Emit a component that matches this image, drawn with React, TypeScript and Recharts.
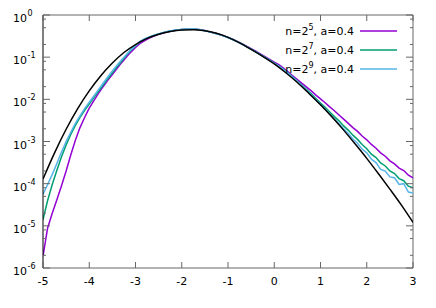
import React from 'react';
import { LineChart, Line, XAxis, YAxis, ReferenceLine } from 'recharts';

const W = 428;
const H = 300;
const MARGIN = { top: 7, right: 23, bottom: 0, left: 0 };
const Y_AXIS_W = 35;
const X_AXIS_H = 40;
const PLOT_W = W - MARGIN.left - MARGIN.right - Y_AXIS_W;
const PLOT_TOP = MARGIN.top;
const FONT = '"DejaVu Sans", "Liberation Sans", sans-serif';
const TICK_COLOR = '#666';

// x grid for the simulated histograms
const gridX = [
  -5.0, -4.9, -4.8, -4.7, -4.6, -4.5, -4.4, -4.3, -4.2, -4.1,
  -4.0, -3.9, -3.8, -3.7, -3.6, -3.5, -3.4, -3.3, -3.2, -3.1,
  -3.0, -2.9, -2.8, -2.7, -2.6, -2.5, -2.4, -2.3, -2.2, -2.1,
  -2.0, -1.9, -1.8, -1.7, -1.6, -1.5, -1.4, -1.3, -1.2, -1.1,
  -1.0, -0.9, -0.8, -0.7, -0.6, -0.5, -0.4, -0.3, -0.2, -0.1,
  0.0, 0.1, 0.2, 0.3, 0.4, 0.5, 0.6, 0.7, 0.8, 0.9,
  1.0, 1.1, 1.2, 1.3, 1.4, 1.5, 1.6, 1.7, 1.8, 1.9,
  2.0, 2.1, 2.2, 2.3, 2.4, 2.5, 2.6, 2.7, 2.8, 2.9,
  3.0,
];

// log10 of density
const n5Log10 = [
  -5.72, -5.05, -4.70, -4.38, -4.05, -3.70, -3.32, -2.97, -2.67, -2.43,
  -2.21, -2.03, -1.86, -1.70, -1.55, -1.41, -1.27, -1.13, -1.00, -0.88,
  -0.77, -0.675, -0.605, -0.55, -0.50, -0.46, -0.425, -0.397, -0.375, -0.358,
  -0.346, -0.338, -0.336, -0.34, -0.352, -0.37, -0.40, -0.425, -0.455, -0.49,
  -0.53, -0.575, -0.625, -0.68, -0.74, -0.80, -0.86, -0.925, -0.99, -1.055,
  -1.12, -1.18, -1.26, -1.35, -1.44, -1.53, -1.62, -1.71, -1.80, -1.90,
  -1.99, -2.08, -2.18, -2.27, -2.37, -2.47, -2.57, -2.67, -2.76, -2.87,
  -2.96, -3.07, -3.16, -3.27, -3.35, -3.46, -3.53, -3.63, -3.69, -3.80,
  -3.86,
];

const n7Log10 = [
  -4.85, -4.40, -4.02, -3.68, -3.36, -3.08, -2.83, -2.62, -2.43, -2.26,
  -2.11, -1.96, -1.81, -1.66, -1.51, -1.37, -1.23, -1.10, -0.96, -0.835,
  -0.735, -0.635, -0.57, -0.525, -0.485, -0.45, -0.418, -0.393, -0.372, -0.356,
  -0.345, -0.338, -0.336, -0.34, -0.352, -0.372, -0.40, -0.425, -0.457, -0.493,
  -0.533, -0.58, -0.632, -0.688, -0.748, -0.81, -0.873, -0.938, -1.005, -1.072,
  -1.14, -1.21, -1.29, -1.38, -1.47, -1.57, -1.67, -1.77, -1.87, -1.98,
  -2.09, -2.19, -2.30, -2.41, -2.51, -2.63, -2.73, -2.85, -2.95, -3.07,
  -3.17, -3.30, -3.38, -3.51, -3.58, -3.70, -3.76, -3.88, -3.93, -4.06,
  -4.10,
];

const n9Log10 = [
  -4.25, -4.02, -3.78, -3.52, -3.25, -3.00, -2.78, -2.57, -2.39, -2.22,
  -2.07, -1.92, -1.77, -1.62, -1.47, -1.33, -1.19, -1.06, -0.94, -0.82,
  -0.725, -0.625, -0.565, -0.52, -0.48, -0.447, -0.416, -0.391, -0.37, -0.354,
  -0.343, -0.336, -0.334, -0.339, -0.351, -0.371, -0.40, -0.426, -0.458, -0.495,
  -0.535, -0.582, -0.634, -0.69, -0.75, -0.813, -0.876, -0.942, -1.01, -1.077,
  -1.145, -1.215, -1.295, -1.385, -1.48, -1.58, -1.68, -1.79, -1.90, -2.01,
  -2.12, -2.24, -2.35, -2.47, -2.58, -2.70, -2.81, -2.94, -3.04, -3.18,
  -3.27, -3.42, -3.50, -3.66, -3.70, -3.84, -3.86, -4.02, -4.00, -4.20,
  -4.22,
];

// limiting curve
const limitX = [
  -5.0, -4.75, -4.5, -4.25, -4.0, -3.75, -3.5, -3.25, -3.0, -2.75,
  -2.5, -2.25, -2.0, -1.75, -1.5, -1.25, -1.0, -0.75, -0.5, -0.25,
  0.0, 0.25, 0.5, 0.75, 1.0, 1.25, 1.5, 1.75, 2.0, 2.25,
  2.5, 2.75, 3.0,
];
const limitLog10 = [
  -3.89, -3.27, -2.71, -2.22, -1.80, -1.44, -1.14, -0.89, -0.70, -0.555,
  -0.455, -0.39, -0.355, -0.348, -0.372, -0.435, -0.53, -0.66, -0.815, -0.98,
  -1.16, -1.37, -1.60, -1.86, -2.13, -2.42, -2.73, -3.06, -3.40, -3.76,
  -4.13, -4.51, -4.92,
];

const xTicks = [-5, -4, -3, -2, -1, 0, 1, 2, 3];
const yTicks = [
  1e-6, 2e-6, 5e-6, 8e-6,
  1e-5, 2e-5, 5e-5, 8e-5,
  1e-4, 2e-4, 5e-4, 8e-4,
  1e-3, 2e-3, 5e-3, 8e-3,
  1e-2, 2e-2, 5e-2, 8e-2,
  1e-1, 2e-1, 5e-1, 8e-1,
  1,
];

const seriesNames = ['5', '7', '9'];
const seriesColors = ['#9400d3', '#009e73', '#56b4e9'];
const legendRowsY = [23, 42, 61];

const toData = (xs: number[], logs: number[]) =>
  xs.map((x, i) => ({ x, y: Math.pow(10, logs[i]) }));

const n5Data = toData(gridX, n5Log10);
const n7Data = toData(gridX, n7Log10);
const n9Data = toData(gridX, n9Log10);
const limitData = toData(limitX, limitLog10);

function XTick(props: any) {
  const { x, y, payload } = props;
  return (
    <g>
      <line x1={x} x2={x} y1={y} y2={y - 6} stroke={TICK_COLOR} />
      <line x1={x} x2={x} y1={PLOT_TOP} y2={PLOT_TOP + 6} stroke={TICK_COLOR} />
      <text x={x} y={y + 17} textAnchor="middle" fontSize={11} fontFamily={FONT} fill="#000">
        {String(payload.value)}
      </text>
    </g>
  );
}

function YTick(props: any) {
  const { x, y, payload } = props;
  const e = Math.log10(payload.value);
  const major = Math.abs(e - Math.round(e)) < 1e-6;
  const len = major ? 7 : 3;
  return (
    <g>
      <line x1={x} x2={x + len} y1={y} y2={y} stroke={TICK_COLOR} />
      <line x1={x + PLOT_W} x2={x + PLOT_W - len} y1={y} y2={y} stroke={TICK_COLOR} />
      {major && (
        <>
          <text x={x - 16} y={y + 7} textAnchor="end" fontSize={11} fontFamily={FONT} fill="#000">
            10
          </text>
          <text x={x - 15.5} y={y + 1} textAnchor="start" fontSize={8} fontFamily={FONT} fill="#000">
            {String(Math.round(e))}
          </text>
        </>
      )}
    </g>
  );
}

export default function App() {
  return (
    <div style={{ position: 'relative', width: W, height: H }}>
      <LineChart width={W} height={H} margin={MARGIN}>
        <XAxis
          type="number"
          dataKey="x"
          domain={[-5, 3]}
          ticks={xTicks}
          interval={0}
          allowDataOverflow
          height={X_AXIS_H}
          tick={<XTick />}
          tickLine={false}
          tickSize={0}
          tickMargin={0}
          axisLine={{ stroke: TICK_COLOR }}
        />
        <YAxis
          type="number"
          scale="log"
          domain={[1e-6, 1]}
          ticks={yTicks}
          interval={0}
          allowDataOverflow
          width={Y_AXIS_W}
          tick={<YTick />}
          tickLine={false}
          tickSize={0}
          tickMargin={0}
          axisLine={{ stroke: '#000' }}
        />
        <ReferenceLine y={1} stroke={TICK_COLOR} />
        <ReferenceLine x={3} stroke={TICK_COLOR} />
        <Line data={n5Data} dataKey="y" type="linear" stroke={seriesColors[0]} strokeWidth={1.5} dot={false} isAnimationActive={false} />
        <Line data={n7Data} dataKey="y" type="linear" stroke={seriesColors[1]} strokeWidth={1.5} dot={false} isAnimationActive={false} />
        <Line data={n9Data} dataKey="y" type="linear" stroke={seriesColors[2]} strokeWidth={1.5} dot={false} isAnimationActive={false} />
        <Line data={limitData} dataKey="y" type="monotone" stroke="#000" strokeWidth={1.5} dot={false} isAnimationActive={false} />
      </LineChart>
      <svg width={W} height={H} style={{ position: 'absolute', left: 0, top: 0, pointerEvents: 'none' }}>
        {seriesNames.map((n, i) => (
          <g key={n}>
            <text x={346} y={legendRowsY[i] + 3.5} textAnchor="end" fontSize={11} fontFamily={FONT} fill="#000">
              n=2<tspan dy={-5} fontSize={8}>{n}</tspan>
              <tspan dy={5}>, a=0.4</tspan>
            </text>
            <line x1={352} x2={389} y1={legendRowsY[i]} y2={legendRowsY[i]} stroke={seriesColors[i]} strokeWidth={1.5} />
          </g>
        ))}
      </svg>
    </div>
  );
}
